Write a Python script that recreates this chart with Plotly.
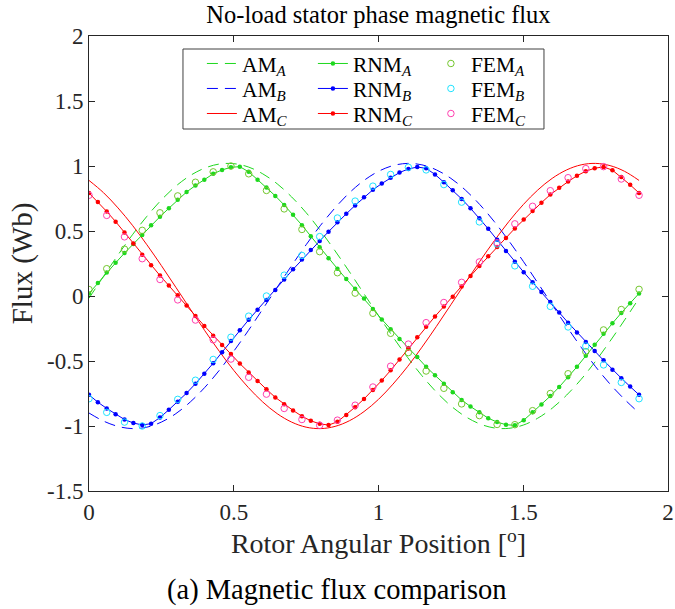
import numpy as np
import plotly.graph_objects as go

# rotor angular position [deg] of the three data sets
x_am = np.linspace(0, 1.9, 39)
x_rnm = np.linspace(0, 1.9, 63)
x_fem = np.linspace(0, 1.9, 32)

# analytical model (AM)
am_a = [-0.017, 0.151, 0.315, 0.471, 0.613, 0.739, 0.845, 0.927, 0.984, 1.015,
        1.018, 0.993, 0.940, 0.863, 0.762, 0.641, 0.501, 0.347, 0.185, 0.017,
        -0.151, -0.315, -0.471, -0.613, -0.739, -0.845, -0.927, -0.984, -1.015, -1.018,
        -0.993, -0.940, -0.863, -0.762, -0.641, -0.501, -0.347, -0.185, -0.017]
am_b = [-0.9, -0.962, -1.003, -1.020, -1.009, -0.970, -0.905, -0.815, -0.703, -0.572,
        -0.425, -0.267, -0.101, 0.067, 0.234, 0.394, 0.544, 0.678, 0.795, 0.889,
        0.959, 1.003, 1.020, 1.009, 0.970, 0.905, 0.815, 0.703, 0.572, 0.425,
        0.267, 0.101, -0.067, -0.234, -0.394, -0.544, -0.678, -0.795, -0.9]
am_c = [0.889, 0.795, 0.678, 0.544, 0.394, 0.234, 0.067, -0.101, -0.267, -0.425,
        -0.572, -0.703, -0.815, -0.905, -0.970, -1.009, -1.020, -1.003, -0.959, -0.889,
        -0.795, -0.678, -0.544, -0.394, -0.234, -0.067, 0.101, 0.267, 0.425, 0.572,
        0.703, 0.815, 0.905, 0.970, 1.009, 1.020, 1.003, 0.959, 0.889]

# reluctance network model (RNM)
rnm_a = [0.02, 0.10, 0.18, 0.255, 0.33, 0.40, 0.47, 0.545, 0.61, 0.675,
         0.74, 0.80, 0.85, 0.895, 0.94, 0.97, 0.99, 0.995, 0.955, 0.895,
         0.835, 0.77, 0.70, 0.625, 0.545, 0.46, 0.375, 0.29, 0.21, 0.13,
         0.055, -0.02, -0.10, -0.18, -0.255, -0.33, -0.40, -0.47, -0.545, -0.61,
         -0.675, -0.74, -0.80, -0.85, -0.895, -0.94, -0.97, -0.99, -0.995, -0.955,
         -0.895, -0.835, -0.77, -0.70, -0.625, -0.545, -0.46, -0.375, -0.29, -0.21,
         -0.13, -0.055, 0.02]
rnm_b = [-0.76, -0.817, -0.865, -0.91, -0.95, -0.977, -0.992, -0.982, -0.935, -0.875,
         -0.813, -0.747, -0.675, -0.598, -0.517, -0.432, -0.347, -0.263, -0.183, -0.105,
         -0.03, 0.047, 0.127, 0.205, 0.28, 0.353, 0.423, 0.495, 0.567, 0.632,
         0.697, 0.76, 0.817, 0.865, 0.91, 0.95, 0.977, 0.992, 0.982, 0.935,
         0.875, 0.813, 0.747, 0.675, 0.598, 0.517, 0.432, 0.347, 0.263, 0.183,
         0.105, 0.03, -0.047, -0.127, -0.205, -0.28, -0.353, -0.423, -0.495, -0.567,
         -0.632, -0.697, -0.76]
rnm_c = [0.792, 0.723, 0.65, 0.572, 0.488, 0.403, 0.318, 0.237, 0.157, 0.08,
         0.005, -0.073, -0.153, -0.23, -0.305, -0.377, -0.447, -0.52, -0.588, -0.653,
         -0.718, -0.78, -0.833, -0.88, -0.925, -0.96, -0.983, -0.993, -0.968, -0.915,
         -0.855, -0.792, -0.723, -0.65, -0.572, -0.488, -0.403, -0.318, -0.237, -0.157,
         -0.08, -0.005, 0.073, 0.153, 0.23, 0.305, 0.377, 0.447, 0.52, 0.588,
         0.653, 0.718, 0.78, 0.833, 0.88, 0.925, 0.96, 0.983, 0.993, 0.968,
         0.915, 0.855, 0.792]

# finite element model (FEM)
fem_a = [0.05, 0.21, 0.36, 0.505, 0.64, 0.77, 0.875, 0.955, 1.0, 0.94,
         0.812, 0.67, 0.512, 0.341, 0.179, 0.022, -0.133, -0.287, -0.435, -0.577,
         -0.71, -0.83, -0.92, -0.988, -0.99, -0.882, -0.75, -0.598, -0.428, -0.261,
         -0.104, 0.051]
fem_b = [-0.79, -0.895, -0.97, -1.0, -0.92, -0.795, -0.648, -0.488, -0.317, -0.155,
         0.0, 0.16, 0.312, 0.457, 0.6, 0.73, 0.845, 0.935, 0.99, 0.97,
         0.857, 0.722, 0.57, 0.40, 0.232, 0.075, -0.08, -0.238, -0.385, -0.53,
         -0.665, -0.79]
fem_c = [0.775, 0.62, 0.455, 0.287, 0.127, -0.03, -0.185, -0.337, -0.485, -0.625,
         -0.755, -0.865, -0.95, -0.995, -0.955, -0.84, -0.70, -0.54, -0.37, -0.205,
         -0.05, 0.105, 0.262, 0.41, 0.555, 0.69, 0.81, 0.91, 0.98, 0.995,
         0.90, 0.775]

phases = ['A', 'B', 'C']
line_colors = {'A': '#1ed81e', 'B': '#0000ff', 'C': '#ff0000'}
fem_colors = {'A': '#74c72e', 'B': '#1fe3ff', 'C': '#ff3fb0'}
am = {'A': am_a, 'B': am_b, 'C': am_c}
rnm = {'A': rnm_a, 'B': rnm_b, 'C': rnm_c}
fem = {'A': fem_a, 'B': fem_b, 'C': fem_c}
am_dash = {'A': '11px,7px', 'B': '11px,7px', 'C': 'solid'}
leg_of = {'A': 'legend', 'B': 'legend2', 'C': 'legend3'}

fig = go.Figure()
for p in phases:
    fig.add_trace(go.Scatter(
        x=x_am, y=am[p], mode='lines', line_shape='spline',
        line=dict(color=line_colors[p], width=1, dash=am_dash[p]),
        name=f'AM<sub><i>{p}</i></sub>', legend=leg_of[p], legendwidth=66))
for p in phases:
    fig.add_trace(go.Scatter(
        x=x_rnm, y=rnm[p], mode='lines+markers',
        line=dict(color=line_colors[p], width=1),
        marker=dict(color=line_colors[p], size=4.5),
        name=f'RNM<sub><i>{p}</i></sub>', legend=leg_of[p], legendwidth=73))
for p in phases:
    fig.add_trace(go.Scatter(
        x=x_fem, y=fem[p], mode='markers',
        marker=dict(symbol='circle-open', color=fem_colors[p], size=6.5,
                    line=dict(width=1, color=fem_colors[p])),
        name=f'FEM<sub><i>{p}</i></sub>', legend=leg_of[p]))

FONT = '"Liberation Serif", "Times New Roman", Times, "DejaVu Serif", serif'
axis_style = dict(showline=True, linecolor='#262626', linewidth=1, mirror='ticks',
                  ticks='inside', ticklen=6, tickcolor='#262626', showgrid=False,
                  zeroline=False, automargin=False,
                  tickfont=dict(family=FONT, size=23, color='#262626'))

xt = [0, 0.5, 1, 1.5, 2]
yt = [-1.5, -1, -0.5, 0, 0.5, 1, 1.5, 2]
fig.update_xaxes(range=[0, 2], tickvals=xt, ticktext=[f'{v:g}' for v in xt],
                 title=dict(text='Rotor Angular Position [<sup>o</sup>]',
                            font=dict(family=FONT, size=28, color='#262626'),
                            standoff=3), **axis_style)
fig.update_yaxes(range=[-1.5, 2], tickvals=yt, ticktext=[f'{v:g}' for v in yt],
                 title=dict(text='Flux (Wb)',
                            font=dict(family=FONT, size=29, color='#262626'),
                            standoff=5), **axis_style)

leg_common = dict(orientation='h', xanchor='left', yanchor='top', x=0.195,
                  bgcolor='rgba(0,0,0,0)', borderwidth=0,
                  font=dict(family=FONT, size=21.5), itemwidth=30)
fig.update_layout(
    width=675, height=609,
    margin=dict(l=89, r=7, t=36, b=118, autoexpand=False),
    paper_bgcolor='white', plot_bgcolor='white',
    font=dict(family=FONT, size=21, color='black'),
    title=dict(text='No-load stator phase magnetic flux', x=0.5, xref='paper',
               xanchor='center', y=1 - 14 / 609, yanchor='middle',
               font=dict(family=FONT, size=24.5)),
    legend=dict(y=0.9846, **leg_common),
    legend2=dict(y=0.9297, **leg_common),
    legend3=dict(y=0.8747, **leg_common),
    shapes=[dict(type='rect', xref='paper', yref='paper', x0=0.1623, x1=0.7858,
                 y0=0.7956, y1=0.9714, line=dict(color='#404040', width=1),
                 fillcolor='white', layer='below')],
    annotations=[dict(text='(a) Magnetic flux comparison', xref='paper', yref='paper',
                      x=0.429, y=-0.2176, xanchor='center', yanchor='middle',
                      showarrow=False, font=dict(family=FONT, size=28.5))],
)

# page body has an 8px default margin; drop it so the figure sits at (0, 0)
fig.write_html('out.html', config={'displayModeBar': False},
               post_script="document.body.style.margin='0';")
